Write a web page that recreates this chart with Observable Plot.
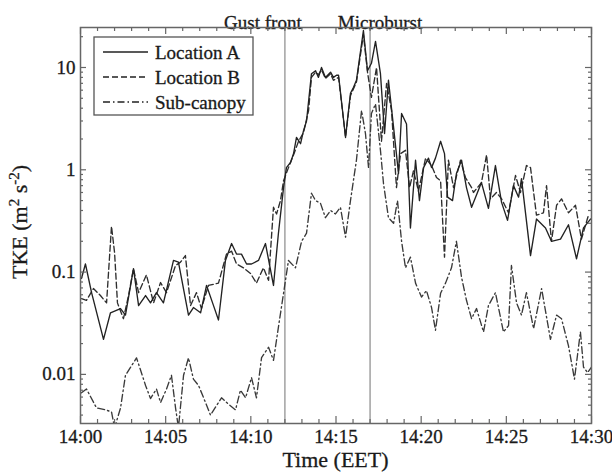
<!DOCTYPE html>
<html>
<head>
<meta charset="utf-8">
<script src="https://cdn.jsdelivr.net/npm/d3@7"></script>
<script src="https://cdn.jsdelivr.net/npm/@observablehq/plot@0.6"></script>
<style>
  html, body { margin: 0; padding: 0; background: #fff; }
  svg text { stroke: #1a1a1a; stroke-width: 0.3px; }
</style>
</head>
<body>
<div id="chart"></div>
<script>
// ---- Data (time in minutes after 14:00, TKE in m^2 s^-2) ----
const tA = [0.06,0.29,0.65,1.35,1.76,2.35,2.64,3.11,3.41,3.82,4.11,4.46,4.87,5.46,5.75,6.34,6.63,7.05,7.40,7.81,8.10,8.51,8.87,9.16,9.45,9.75,10.04,10.45,10.86,11.33,11.62,11.92,12.09,12.33,12.51,12.68,12.92,13.09,13.27,13.56,13.80,13.97,14.15,14.38,14.68,14.85,15.03,15.15,15.56,15.85,16.03,16.20,16.61,16.85,17.08,17.32,17.61,17.85,18.08,18.38,18.67,18.85,19.14,19.37,19.67,19.90,20.14,20.43,20.61,20.84,21.14,21.37,21.55,21.84,22.07,22.37,22.66,22.96,23.54,23.95,24.36,24.72,25.07,25.42,25.72,25.89,26.42,26.77,27.30,27.65,28.18,28.65,29.12,29.53,29.94];
const vA = [0.087,0.12,0.063,0.022,0.04,0.044,0.038,0.108,0.047,0.059,0.05,0.063,0.05,0.13,0.125,0.038,0.045,0.04,0.074,0.047,0.034,0.13,0.19,0.15,0.15,0.12,0.12,0.13,0.19,0.074,0.24,0.67,1.05,1.18,1.44,2.07,1.8,2.4,3.0,8.7,9.3,8.0,10,8.0,9.0,8.0,8.4,8.4,2.07,5.6,6.4,7.5,23,9.3,11,18,8.7,2.26,7.5,2.6,0.92,3.55,2.8,0.27,1.24,0.5,1.05,1.3,1.05,1.3,1.9,1.44,0.54,0.5,0.92,1.24,0.67,0.43,0.75,0.42,1.1,0.48,0.32,0.70,0.54,0.82,0.145,0.33,0.27,0.2,0.21,0.29,0.135,0.27,0.33];

const tB = [0.06,0.35,0.76,1.17,1.53,1.82,2.00,2.17,2.52,2.82,3.11,3.41,3.87,4.29,4.70,5.05,5.58,5.87,6.16,6.46,6.81,7.10,7.51,8.10,8.57,8.87,9.16,9.57,9.98,10.33,10.74,11.04,11.33,11.51,11.74,11.92,12.21,12.51,12.80,13.09,13.39,13.56,13.80,13.97,14.15,14.38,14.68,14.85,15.15,15.56,15.85,16.20,16.61,16.85,17.08,17.38,17.67,17.97,18.26,18.55,18.79,19.08,19.32,19.55,19.84,20.26,20.61,20.90,21.14,21.37,21.60,21.90,22.31,22.60,22.96,23.07,23.54,23.84,24.07,24.42,24.72,25.13,25.54,25.83,26.18,26.42,26.77,27.18,27.36,27.65,27.95,28.24,28.65,29.06,29.41,29.82];
const vB = [0.055,0.053,0.069,0.059,0.05,0.28,0.155,0.05,0.035,0.059,0.108,0.063,0.094,0.05,0.079,0.063,0.116,0.125,0.145,0.047,0.063,0.044,0.074,0.078,0.15,0.16,0.12,0.11,0.097,0.078,0.11,0.083,0.43,0.37,0.5,0.78,1.05,1.4,1.9,2.3,3.8,8.0,9.0,8.5,9.5,7.8,8.7,7.5,8.0,2.1,5.3,7.2,21,9.0,5.1,10,1.9,7,3.8,0.67,1.44,1.55,0.67,0.98,0.62,1.3,1.1,0.84,0.78,0.14,1.24,0.67,1.24,0.84,0.67,0.6,0.75,1.4,0.52,0.6,0.52,0.38,0.88,0.6,1.1,1.05,0.36,0.38,0.7,0.2,0.45,0.52,0.38,0.45,0.21,0.36];

const tS = [0.06,0.35,0.94,1.47,1.82,2.00,2.35,2.64,3.29,3.82,4.11,4.46,4.70,5.05,5.34,5.58,5.75,6.05,6.34,6.63,6.93,7.34,7.63,8.28,8.69,9.10,9.39,9.69,10.04,10.33,10.63,11.04,11.33,11.62,11.92,12.21,12.62,12.98,13.27,13.56,13.80,14.09,14.38,14.68,14.97,15.26,15.56,15.85,16.20,16.50,16.73,16.91,17.08,17.32,17.61,17.79,18.08,18.38,18.61,18.85,19.08,19.37,19.67,20.02,20.31,20.61,20.84,21.14,21.43,21.78,22.07,22.37,22.66,22.96,23.25,23.66,23.95,24.36,24.83,25.13,25.30,25.60,25.89,26.18,26.60,27.07,27.59,27.95,28.24,28.65,29.00,29.35,29.53,29.77,30.0];
const vS = [0.0066,0.0072,0.0047,0.0045,0.0043,0.0030,0.0047,0.0098,0.0145,0.0078,0.0058,0.0072,0.0053,0.0072,0.0098,0.0047,0.0030,0.0098,0.0145,0.009,0.0078,0.0053,0.0040,0.0059,0.0051,0.0045,0.0070,0.0059,0.0093,0.0059,0.0146,0.0184,0.0137,0.029,0.062,0.13,0.11,0.2,0.24,0.59,0.5,0.47,0.34,0.40,0.37,0.43,0.22,0.5,1.24,3.8,2.26,1.05,3.55,4.4,1.55,0.73,0.34,0.3,0.5,0.2,0.11,0.14,0.078,0.057,0.066,0.045,0.027,0.062,0.078,0.11,0.2,0.089,0.053,0.035,0.044,0.026,0.047,0.063,0.026,0.030,0.116,0.05,0.038,0.063,0.028,0.069,0.022,0.038,0.035,0.019,0.009,0.026,0.0118,0.0104,0.0118];

const seriesNames = ["Location A", "Location B", "Sub-canopy"];
const eventNames = ["Gust front", "Microburst"];
const eventTimes = [12, 17];
const xTickValues = [0, 5, 10, 15, 20, 25, 30];
const xTickLabels = ["14:00", "14:05", "14:10", "14:15", "14:20", "14:25", "14:30"];
const yTickValues = [0.01, 0.1, 1, 10];
const yTickLabels = ["0.01", "0.1", "1", "10"];

// ---- Build tables ----
const rowsA = tA.map((t, i) => ({t, v: vA[i]}));
const rowsB = tB.map((t, i) => ({t, v: vB[i]}));
const rowsS = tS.map((t, i) => ({t, v: vS[i]}));
const events = eventTimes.map((t, i) => ({t, name: eventNames[i]}));
const yLabelRows = yTickValues.map((v, i) => ({v, label: yTickLabels[i]}));

const xMinor = d3.range(0, 31).filter(m => m % 5 !== 0);
const yMinor = [];
for (let e = -3; e <= 1; e++) for (let k = 2; k <= 9; k++) {
  const v = k * Math.pow(10, e);
  if (v > 0.00331 && v < 24.6) yMinor.push(v);
}

const FONT = "'Liberation Serif', 'Times New Roman', serif";
const INK = "#1a1a1a";
const AXC = "#666";
const FW = 511, FH = 396; // frame inner size in px (612-80-21, 473-27-50)

const plot = Plot.plot({
  width: 612,
  height: 473,
  marginLeft: 80,
  marginRight: 21,
  marginTop: 27,
  marginBottom: 50,
  style: {fontFamily: FONT, fontSize: "19px", background: "#fff", color: INK},
  x: {domain: [0, 30], axis: null},
  y: {type: "log", domain: [0.00331, 24.6], axis: null},
  marks: [
    Plot.ruleX(events, {x: "t", stroke: "#9a9a9a", strokeWidth: 1.4}),
    Plot.line(rowsS, {x: "t", y: "v", stroke: "#3a3a3a", strokeWidth: 1.35, strokeDasharray: "7,3,1.5,3", clip: true}),
    Plot.line(rowsB, {x: "t", y: "v", stroke: "#2e2e2e", strokeWidth: 1.35, strokeDasharray: "6,3", clip: true}),
    Plot.line(rowsA, {x: "t", y: "v", stroke: "#222", strokeWidth: 1.35, clip: true}),
    Plot.text([events[0]], {x: "t", text: "name", frameAnchor: "top", dy: -12, dx: -22, fontSize: 19, fill: INK}),
    Plot.text([events[1]], {x: "t", text: "name", frameAnchor: "top", dy: -12, dx: 10, fontSize: 19, fill: INK}),
    // inward ticks: bottom & top
    Plot.tickX(xTickValues, {x: d => d, insetTop: FH - 7, stroke: AXC, strokeWidth: 1.2}),
    Plot.tickX(xMinor, {x: d => d, insetTop: FH - 4, stroke: AXC, strokeWidth: 1.2}),
    Plot.tickX(xTickValues, {x: d => d, insetBottom: FH - 7, stroke: AXC, strokeWidth: 1.2}),
    Plot.tickX(xMinor, {x: d => d, insetBottom: FH - 4, stroke: AXC, strokeWidth: 1.2}),
    // inward ticks: left & right
    Plot.tickY(yTickValues, {y: d => d, insetRight: FW - 6, stroke: AXC, strokeWidth: 1.2}),
    Plot.tickY(yMinor, {y: d => d, insetRight: FW - 3, stroke: AXC, strokeWidth: 1.2}),
    Plot.tickY(yTickValues, {y: d => d, insetLeft: FW - 6, stroke: AXC, strokeWidth: 1.2}),
    Plot.tickY(yMinor, {y: d => d, insetLeft: FW - 3, stroke: AXC, strokeWidth: 1.2}),
    // tick labels
    Plot.text(xTickValues, {x: d => d, text: (d, i) => xTickLabels[i], frameAnchor: "bottom", lineAnchor: "top", dy: 6, fontSize: 19, fill: INK}),
    Plot.text(yLabelRows, {y: "v", text: "label", frameAnchor: "left", dx: -5, textAnchor: "end", fontSize: 19, fill: INK}),
    Plot.frame({stroke: AXC, strokeWidth: 1.5})
  ]
});

const svg = d3.select(plot);

// Axis titles
svg.append("text")
  .attr("x", 335.5).attr("y", 467)
  .attr("text-anchor", "middle")
  .attr("font-family", FONT).attr("font-size", 22).attr("fill", INK)
  .text("Time (EET)");

const yt = svg.append("text")
  .attr("transform", "translate(27,222) rotate(-90)")
  .attr("text-anchor", "middle")
  .attr("font-family", FONT).attr("font-size", 22).attr("fill", INK);
yt.append("tspan").text("TKE (m");
yt.append("tspan").attr("dy", -8).attr("font-size", 15).text("2");
yt.append("tspan").attr("dy", 8).text(" s");
yt.append("tspan").attr("dy", -8).attr("font-size", 15).text("-2");
yt.append("tspan").attr("dy", 8).text(")");

// Legend
const lg = svg.append("g").attr("text-anchor", "start");
lg.append("rect").attr("x", 94).attr("y", 37).attr("width", 159).attr("height", 78)
  .attr("fill", "#fff").attr("stroke", "#555").attr("stroke-width", 1.3);
const dashes = [null, "6,3", "7,3,1.5,3"];
seriesNames.forEach((name, i) => {
  const y = 52 + i * 25;
  lg.append("line").attr("x1", 103).attr("x2", 148).attr("y1", y).attr("y2", y)
    .attr("stroke", "#222").attr("stroke-width", 1.3)
    .attr("stroke-dasharray", dashes[i]);
  lg.append("text").attr("x", 155).attr("y", y).attr("dy", "0.35em")
    .attr("text-anchor", "start")
    .attr("font-family", FONT).attr("font-size", 19).attr("fill", INK)
    .text(name);
});

document.getElementById("chart").appendChild(plot);
</script>
</body>
</html>
